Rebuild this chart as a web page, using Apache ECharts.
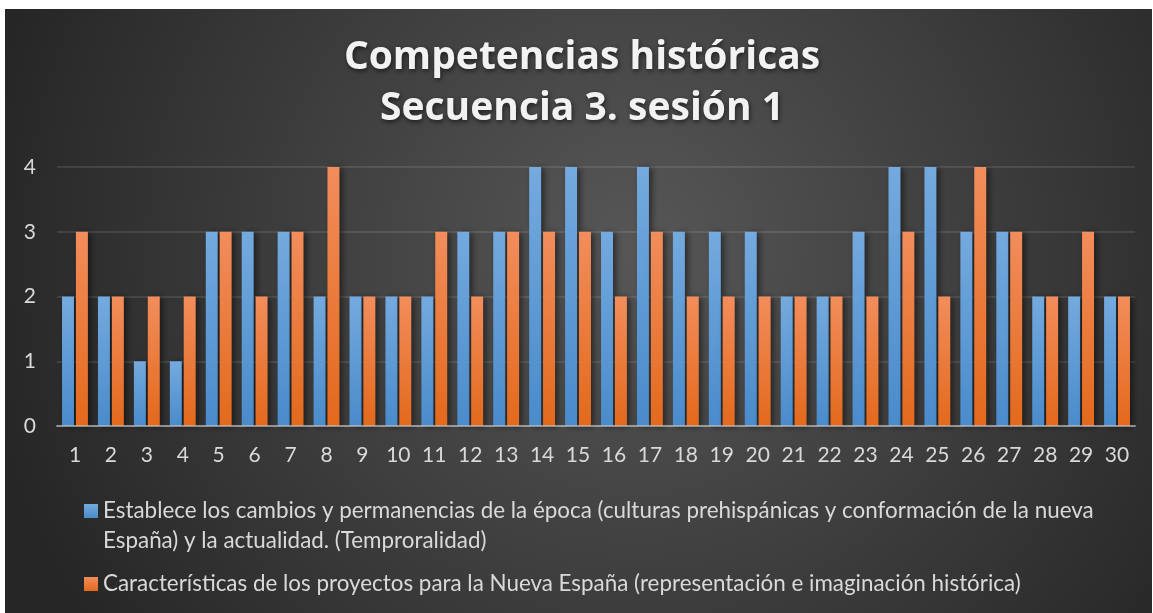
<!DOCTYPE html>
<html>
<head>
<meta charset="utf-8">
<script src="https://cdn.jsdelivr.net/npm/echarts@6/dist/echarts.min.js"></script>
<style>
html, body { margin: 0; padding: 0; background: #ffffff; }
#chartBox { position: absolute; left: 5px; top: 9px; width: 1147px; height: 604px; }
</style>
</head>
<body>
<div id="chartBox"></div>
<script>
// datos
var categorias = [];
for (var i = 1; i <= 30; i++) categorias.push(String(i));
var nombreSerie1 = 'Establece los cambios y permanencias de la época (culturas prehispánicas y conformación de la nueva España) y la actualidad. (Temproralidad)';
var nombreSerie2 = 'Características de los proyectos para la Nueva España (representación e imaginación histórica)';
var temporalidad = [2, 2, 1, 1, 3, 3, 3, 2, 2, 2, 2, 3, 3, 4, 4, 3, 4, 3, 3, 3, 2, 2, 3, 4, 4, 3, 3, 2, 2, 2];
var proyectos =    [3, 2, 2, 2, 3, 2, 3, 4, 2, 2, 3, 2, 3, 3, 3, 2, 3, 2, 2, 2, 2, 2, 2, 3, 2, 4, 3, 2, 3, 2];
var ticksY = [0, 1, 2, 3, 4];

var fuente = 'Lato, "Open Sans", sans-serif';
var gris = '#d9d9d9';

function degradado(arriba, abajo) {
    return new echarts.graphic.LinearGradient(0, 0, 0, 1, [
        {offset: 0, color: arriba},
        {offset: 1, color: abajo}
    ]);
}

var chart = echarts.init(document.getElementById('chartBox'));
chart.setOption({
    backgroundColor: {
        type: 'radial', x: 0.55, y: 0.4, r: 1.1,
        colorStops: [
            {offset: 0, color: '#575757'},
            {offset: 1, color: '#262626'}
        ]
    },
    animation: false,
    title: {
        text: 'Competencias históricas\nSecuencia 3. sesión 1',
        left: 572,
        top: 18,
        textAlign: 'center',
        textStyle: {
            color: '#f2f2f2',
            fontFamily: '"Open Sans", sans-serif',
            fontWeight: 'bold',
            fontSize: 39,
            lineHeight: 51,
            textShadowColor: 'rgba(0,0,0,0.6)',
            textShadowBlur: 5,
            textShadowOffsetX: 1,
            textShadowOffsetY: 2
        }
    },
    legend: [
        {
            // linea vacia arriba para que la primera linea quede junto al icono
            data: [nombreSerie1],
            orient: 'vertical',
            left: 79,
            top: 457,
            padding: 0,
            icon: 'rect',
            itemWidth: 14,
            itemHeight: 14,
            selectedMode: false,
            formatter: function (n) { return '\n' + n.replace(' España)', '\nEspaña)'); },
            textStyle: {color: gris, fontFamily: fuente, fontSize: 22.4, lineHeight: 30}
        },
        {
            data: [nombreSerie2],
            orient: 'vertical',
            left: 79,
            top: 560,
            padding: 0,
            icon: 'rect',
            itemWidth: 14,
            itemHeight: 14,
            selectedMode: false,
            textStyle: {color: gris, fontFamily: fuente, fontSize: 22.4, lineHeight: 30}
        }
    ],
    grid: {left: 52, right: 17, top: 158, bottom: 187},
    xAxis: {
        type: 'category',
        data: categorias,
        z: 5,
        axisTick: {show: false},
        axisLine: {lineStyle: {color: 'rgba(200,200,200,0.6)', width: 2}},
        axisLabel: {color: gris, fontFamily: fuente, fontSize: 21, margin: 19}
    },
    yAxis: {
        type: 'value',
        min: ticksY[0],
        max: ticksY[ticksY.length - 1],
        interval: 1,
        axisLine: {show: false},
        axisTick: {show: false},
        axisLabel: {color: gris, fontFamily: fuente, fontSize: 21, margin: 21},
        splitLine: {lineStyle: {color: 'rgba(255,255,255,0.1)', width: 2}}
    },
    series: [
        {
            name: nombreSerie1,
            type: 'bar',
            data: temporalidad,
            barGap: '16%',
            barCategoryGap: '28%',
            itemStyle: {
                color: degradado('#74aade', '#4a8bcb'),
                shadowColor: 'rgba(0,0,0,0.5)',
                shadowBlur: 6,
                shadowOffsetX: 3,
                shadowOffsetY: 1
            }
        },
        {
            name: nombreSerie2,
            type: 'bar',
            data: proyectos,
            itemStyle: {
                color: degradado('#f28d5c', '#e3691c'),
                shadowColor: 'rgba(0,0,0,0.5)',
                shadowBlur: 6,
                shadowOffsetX: 3,
                shadowOffsetY: 1
            }
        }
    ]
});
</script>
</body>
</html>
